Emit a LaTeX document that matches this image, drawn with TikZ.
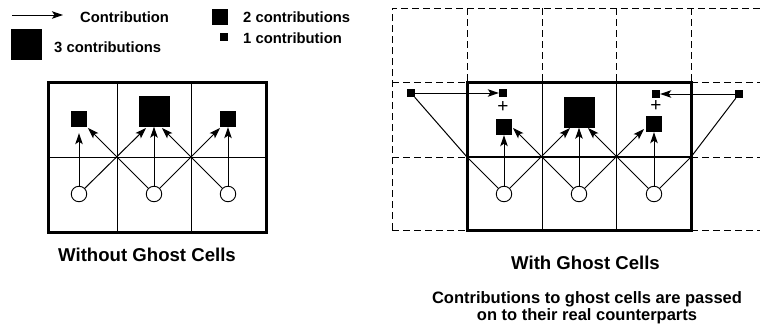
\documentclass[tikz,border=0pt]{standalone}
\usepackage{fontspec}
\setmainfont{Liberation Sans}
\usetikzlibrary{arrows.meta}
\begin{document}
\begin{tikzpicture}[x=1pt,y=-1pt,
  sqone/.style={fill=black, inner sep=0, minimum size=8pt},
  sqtwo/.style={fill=black, inner sep=0, minimum size=16pt},
  sqthree/.style={fill=black, inner sep=0, minimum size=31pt},
  cellcirc/.style={circle, draw, fill=white, line width=0.9pt, minimum size=15.5pt, inner sep=0},
  contrib/.style={line width=1pt, -{Stealth[length=11pt,width=7.5pt,inset=2.5pt]}},
  plainline/.style={line width=1pt},
  border/.style={line width=3pt},
  midline/.style={line width=1.8pt},
  ghost/.style={line width=1pt, dash pattern=on 7pt off 4pt},
  lbl/.style={font=\bfseries\fontsize{14.8}{17}\selectfont, anchor=base west, inner sep=0},
  ttl/.style={font=\bfseries\fontsize{18.6}{22}\selectfont, anchor=base, inner sep=0},
  note/.style={font=\bfseries\fontsize{16.5}{17.2}\selectfont, align=center, anchor=base, inner sep=0},
  plus/.style={font=\fontsize{19}{19}\selectfont, inner sep=0}
]
\useasboundingbox (0,0) rectangle (760,324);

% ---------- legend ----------
\coordinate (la0) at (12,15);
\coordinate (la1) at (63,15);
\draw[contrib] (la0) -- (la1);
\node[lbl] (lt1) at (80,22.7) {Contribution};
\node[sqthree] (lq3) at (26.5,44.5) {};
\node[lbl] (lt3) at (54,52.7) {3 contributions};
\node[sqtwo] (lq2) at (220,17) {};
\node[lbl] (lt2) at (243,22.7) {2 contributions};
\node[sqone] (lq1) at (224,37) {};
\node[lbl] (lt4) at (243,43.3) {1 contribution};

% ---------- left grid ----------
\draw[border] (48,82) rectangle (266,232);
\draw[plainline] (117,82) -- (117,232);
\draw[plainline] (191,82) -- (191,232);
\draw[plainline] (48,157) -- (266,157);

\node[cellcirc] (c1L) at (79,194) {};
\node[cellcirc] (c2L) at (154,194) {};
\node[cellcirc] (c3L) at (228,194) {};
\node[sqtwo] (s1L) at (79,119) {};
\node[sqthree] (bigL) at (154,111) {};
\node[sqtwo] (s3L) at (228,119) {};
\coordinate (tA) at (146,128);
\coordinate (tB) at (88,128);
\coordinate (tC) at (220,128);
\coordinate (tD) at (162,128);

\draw[contrib, shorten >=6pt] (c1L) -- (s1L);
\draw[contrib] (c1L) -- (tA);
\draw[contrib] (c2L) -- (tB);
\draw[contrib] (c2L) -- (bigL);
\draw[contrib] (c2L) -- (tC);
\draw[contrib] (c3L) -- (tD);
\draw[contrib] (c3L) -- (s3L);

\node[ttl] (t1) at (147,261) {Without Ghost Cells};

% ---------- right grid ----------
\begin{scope}
\clip (380,0) rectangle (760,324);
\draw[ghost] (392,230) -- (392,8) -- (766,8);
\draw[ghost] (467,8) -- (467,82);
\draw[ghost] (542,8) -- (542,82);
\draw[ghost] (616,8) -- (616,82);
\draw[ghost] (691,8) -- (691,82);
\draw[ghost] (392,82) -- (467,82);
\draw[ghost] (691,82) -- (766,82);
\draw[ghost] (392,157) -- (467,157);
\draw[ghost] (691,157) -- (766,157);
\draw[ghost] (392,230) -- (467,230);
\draw[ghost] (691,230) -- (766,230);
\end{scope}
\draw[border] (467,82) rectangle (691,230);
\draw[plainline] (542,82) -- (542,230);
\draw[plainline] (616,82) -- (616,230);
\draw[midline] (467,157) -- (691,157);

\node[cellcirc] (c1R) at (504,194) {};
\node[cellcirc] (c2R) at (579,194) {};
\node[cellcirc] (c3R) at (654,194) {};
\node[sqtwo] (s1R) at (504,127) {};
\node[sqthree] (bigR) at (579,112) {};
\node[sqtwo] (s3R) at (654,124) {};
\node[sqone] (m1R) at (503,93) {};
\node[sqone] (m3R) at (656,94) {};
\node[sqone] (gL) at (411,93) {};
\node[sqone] (gR) at (739,94) {};
\node[plus] (p1) at (503,107.5) {+};
\node[plus] (p3) at (656,106.5) {+};

\coordinate (iL) at (467,157);
\coordinate (iR) at (691,157);
\coordinate (tE) at (570,128);
\coordinate (tF) at (513,128);
\coordinate (tG) at (644,129);
\coordinate (tH) at (588,128);

\draw[contrib] (c1R) -- (s1R);
\draw[contrib] (c1R) -- (tE);
\draw[contrib] (c2R) -- (tF);
\draw[contrib] (c2R) -- (bigR);
\draw[contrib] (c2R) -- (tG);
\draw[contrib] (c3R) -- (tH);
\draw[contrib] (c3R) -- (s3R);
\draw[plainline] (c1R) -- (iL) -- (gL);
\draw[plainline] (c3R) -- (iR) -- (gR);
\draw[contrib] (gL) -- (m1R);
\draw[contrib] (gR) -- (m3R);

\node[ttl] (t2) at (585.5,269.3) {With Ghost Cells};
\node[note] (t3) at (587,320.5) {Contributions to ghost cells are passed\\on to their real counterparts};
\end{tikzpicture}
\end{document}
